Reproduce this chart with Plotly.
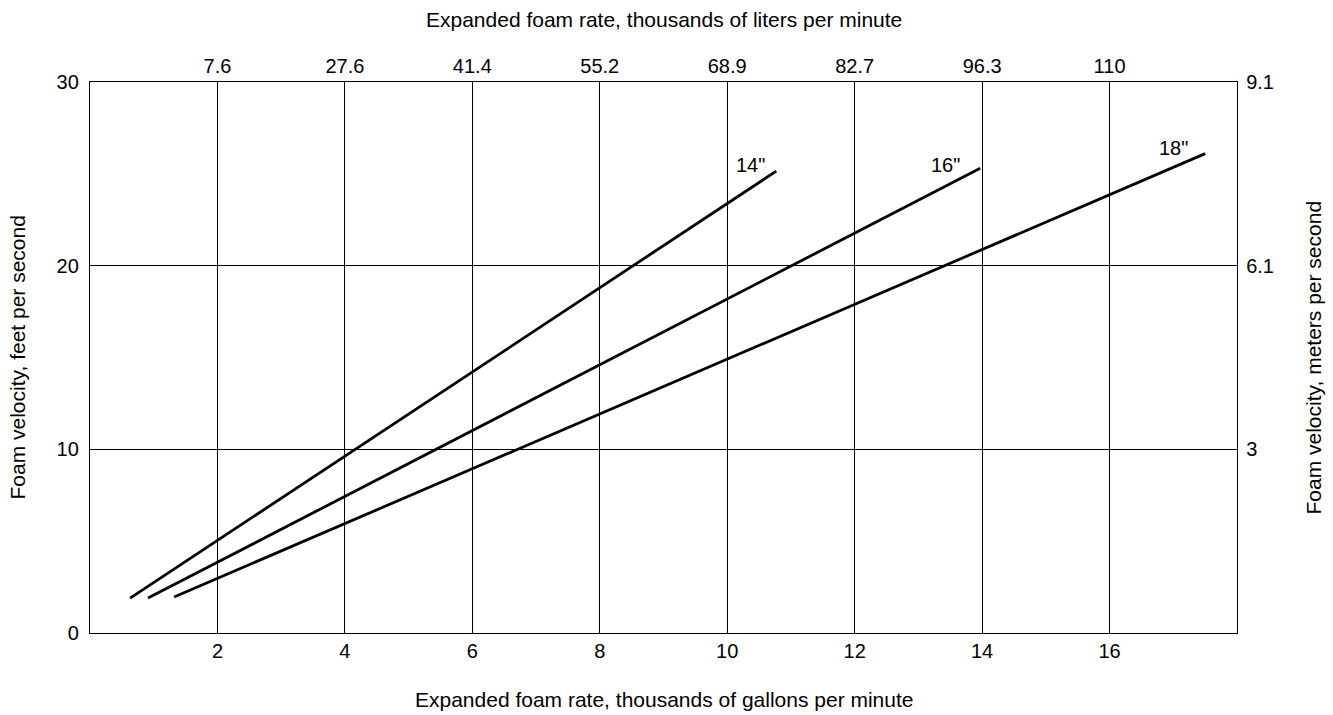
import plotly.graph_objects as go

# Data
series_names = ['14"', '16"', '18"']
x_14 = [0.63, 10.77]
y_14 = [1.9, 25.15]
x_16 = [0.91, 13.97]
y_16 = [1.9, 25.3]
x_18 = [1.32, 17.5]
y_18 = [1.96, 26.1]
label_pos_x = [10.37, 13.42, 17.01]
label_pos_y = [25.5, 25.5, 26.4]

bottom_ticks = [2, 4, 6, 8, 10, 12, 14, 16]
top_ticklabels = ["7.6", "27.6", "41.4", "55.2", "68.9", "82.7", "96.3", "110"]
left_ticks = [0, 10, 20, 30]
right_ticks = [10, 20, 30]
right_ticklabels = ["3", "6.1", "9.1"]

FONT = "Liberation Sans, Arial, sans-serif"
TICK_SIZE = 20
TITLE_SIZE = 21

fig = go.Figure()
for xs, ys in [(x_14, y_14), (x_16, y_16), (x_18, y_18)]:
    fig.add_trace(go.Scatter(x=xs, y=ys, mode="lines",
                             line=dict(color="black", width=2.8),
                             showlegend=False, hoverinfo="skip"))
# invisible trace for secondary axes
fig.add_trace(go.Scatter(x=[0, 18], y=[0, 30], xaxis="x2", yaxis="y2",
                         mode="markers", marker=dict(opacity=0),
                         showlegend=False, hoverinfo="skip"))

for name, lx, ly in zip(series_names, label_pos_x, label_pos_y):
    fig.add_annotation(x=lx, y=ly, text=name, showarrow=False,
                       font=dict(size=TICK_SIZE, color="black", family=FONT))

axis_common = dict(showline=True, linecolor="black", linewidth=1.3,
                   zeroline=False, ticks="",
                   tickfont=dict(size=TICK_SIZE, color="black", family=FONT))

title_font = dict(size=TITLE_SIZE, color="black", family=FONT)

fig.update_layout(
    width=1333, height=715,
    margin=dict(l=90, r=96, t=82, b=82),
    paper_bgcolor="white", plot_bgcolor="white",
    xaxis=dict(range=[0, 18], tickvals=bottom_ticks, showgrid=True,
               gridcolor="black", gridwidth=1.2, mirror=False,
               ticklabelstandoff=0, **axis_common),
    xaxis2=dict(range=[0, 18], tickvals=bottom_ticks, ticktext=top_ticklabels,
                overlaying="x", side="top", showgrid=False,
                ticklabelstandoff=0, **axis_common),
    yaxis=dict(range=[0, 30], tickvals=left_ticks, showgrid=True,
               gridcolor="black", gridwidth=1.2, ticklabelstandoff=6,
               **axis_common),
    yaxis2=dict(range=[0, 30], tickvals=right_ticks, ticktext=right_ticklabels,
                overlaying="y", side="right", showgrid=False,
                ticklabelstandoff=4, **axis_common),
    annotations=list(fig.layout.annotations) + [
        dict(text="Expanded foam rate, thousands of liters per minute",
             xref="paper", yref="paper", x=0.5, y=1, yshift=63,
             xanchor="center", yanchor="middle",
             showarrow=False, font=title_font),
        dict(text="Expanded foam rate, thousands of gallons per minute",
             xref="paper", yref="paper", x=0.5, y=0, yshift=-66,
             xanchor="center", yanchor="middle",
             showarrow=False, font=title_font),
        dict(text="Foam velocity, feet per second", textangle=-90,
             xref="paper", yref="paper", x=0, y=0.5, xshift=-73,
             xanchor="center", yanchor="middle",
             showarrow=False, font=title_font),
        dict(text="Foam velocity, meters per second", textangle=-90,
             xref="paper", yref="paper", x=1, y=0.5, xshift=76,
             xanchor="center", yanchor="middle",
             showarrow=False, font=title_font),
    ],
)

fig.write_html("out.html")
